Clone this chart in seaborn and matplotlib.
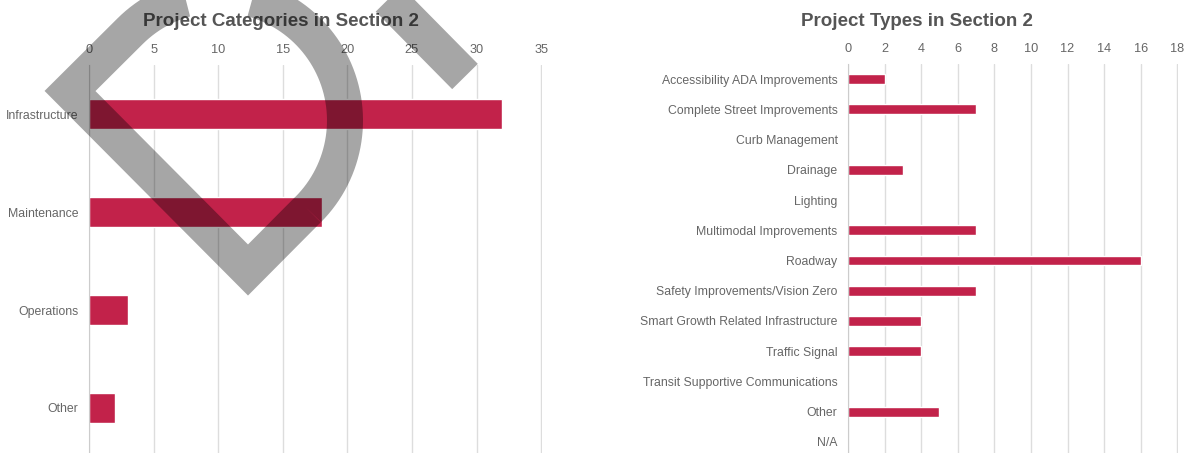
import numpy as np
import pandas as pd
import matplotlib.pyplot as plt
from matplotlib.lines import Line2D
import seaborn as sns

sns.set_style("white")
plt.rcParams['font.family'] = ['Liberation Sans', 'DejaVu Sans']

# data
categories = ["Infrastructure", "Maintenance", "Operations", "Other"]
category_counts = [32, 18, 3, 2]

types = ["Accessibility ADA Improvements", "Complete Street Improvements",
         "Curb Management", "Drainage", "Lighting", "Multimodal Improvements",
         "Roadway", "Safety Improvements/Vision Zero",
         "Smart Growth Related Infrastructure", "Traffic Signal",
         "Transit Supportive Communications", "Other", "N/A"]
type_counts = [2, 7, 0, 3, 0, 7, 16, 7, 4, 4, 0, 5, 0]

red = "#C2224A"
text_gray = "#666666"
W, H = 1187, 453

fig = plt.figure(figsize=(W / 100, H / 100), dpi=100)


def px_axes(x0, x1, y0, y1):
    return fig.add_axes([x0 / W, 1 - y1 / H, (x1 - x0) / W, (y1 - y0) / H])


def style(ax, xmax, step, title, title_x):
    ax.set_xlim(0, xmax * 1.002)
    ax.set_xticks(np.arange(0, xmax + 0.1, step))
    ax.xaxis.tick_top()
    ax.tick_params(axis="x", length=0, pad=6.5, labelsize=9.2, labelcolor=text_gray)
    ax.tick_params(axis="y", length=0, pad=7.5, labelsize=8.8, labelcolor=text_gray)
    ax.grid(axis="x", color="#dddddd", linewidth=1)
    ax.set_axisbelow(True)
    for s in ["top", "right", "bottom"]:
        ax.spines[s].set_visible(False)
    ax.spines["left"].set_color("#cccccc")
    ax.set_xlabel("")
    ax.set_ylabel("")
    fig.text(title_x / W, 1 - 22 / H, title, ha="center", va="center",
             fontsize=13.5, fontweight="bold", color="#555555")


ax1 = px_axes(89, 542, 65, 457)
df1 = pd.DataFrame({"category": categories, "count": category_counts})
sns.barplot(data=df1, y="category", x="count", color=red, saturation=1,
            width=0.31, ax=ax1)
style(ax1, 35, 5, "Project Categories in Section 2", 281)

ax2 = px_axes(848, 1178, 64, 457)
df2 = pd.DataFrame({"type": types, "count": type_counts})
sns.barplot(data=df2, y="type", x="count", color=red, saturation=1,
            width=0.33, ax=ax2)
style(ax2, 18, 2, "Project Types in Section 2", 917)

# grey watermark logo drawn over the left chart (pixel coords)
c = np.array([219.0, 120.5])
r = 126.0
th = np.radians(np.linspace(225, 405, 80))
arc = np.column_stack([c[0] + r * np.cos(th), c[1] + r * np.sin(th)])
pts = np.vstack([[[308, 209.6], [248, 270], [70, 91]], arc])
arm = np.array([[350, -40], [465, 76.5]])
for p in [pts, arm]:
    fig.add_artist(Line2D(p[:, 0] / W, 1 - p[:, 1] / H, transform=fig.transFigure,
                          color="black", alpha=0.35, linewidth=36 * 0.72,
                          solid_joinstyle="miter", solid_capstyle="butt",
                          zorder=10))

fig.savefig("out.png", dpi=100)
